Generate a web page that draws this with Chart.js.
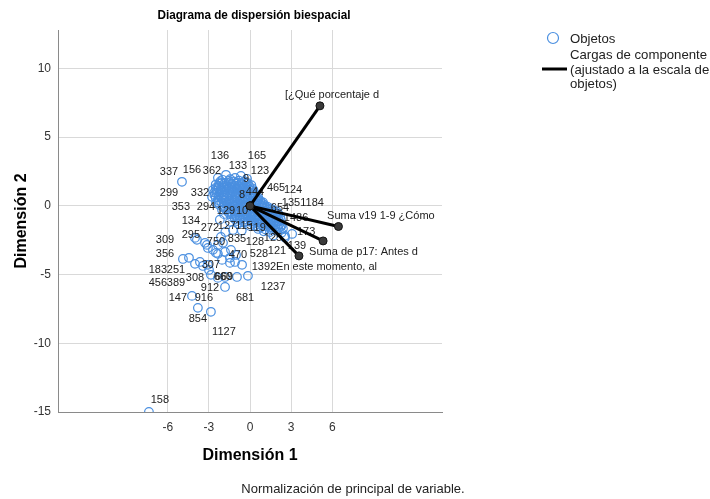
<!DOCTYPE html>
<html>
<head>
<meta charset="utf-8">
<script src="https://cdn.jsdelivr.net/npm/chart.js@4.4.1/dist/chart.umd.min.js"></script>
<style>
  html, body { margin: 0; padding: 0; background: #fff; }
  canvas { display: block; }
</style>
</head>
<body>
<canvas id="biplot" width="710" height="499"></canvas>
<script>
// Puntos de objetos (Dimensión 1, Dimensión 2)
const objetos = [
  // nube central
  [-2.34, 2.04], [-1.75, 2.26], [-1.09, 2.04], [-0.66, 2.18], [-0.22, 1.97], [-1.45, 1.95], [-2.0, 1.9],
  [-2.04, 1.67], [-2.5, 1.55], [-1.7, 1.7], [-1.35, 1.62], [-0.95, 1.7], [-0.55, 1.6], [-0.15, 1.65], [0.1, 1.5],
  [-2.7, 1.16], [-2.3, 1.3], [-1.9, 1.35], [-1.55, 1.25], [-1.15, 1.35], [-0.8, 1.28], [-0.4, 1.32], [-0.05, 1.2], [0.25, 1.15],
  [-2.77, 0.66], [-2.45, 0.95], [-2.05, 1.0], [-1.65, 0.92], [-1.25, 1.0], [-0.9, 0.95], [-0.55, 0.98], [-0.2, 0.9], [0.15, 0.85], [0.4, 0.7],
  [-2.3, 0.6], [-1.9, 0.62], [-1.5, 0.55], [-1.1, 0.65], [-0.75, 0.58], [-0.35, 0.62], [0.05, 0.55], [0.45, 0.45], [0.75, 0.35],
  [-2.48, 0.22], [-2.1, 0.28], [-1.7, 0.25], [-1.3, 0.3], [-0.9, 0.22], [-0.5, 0.28], [-0.1, 0.2], [0.3, 0.18], [0.7, 0.1], [1.05, 0.05],
  [-2.04, -0.29], [-1.85, -0.05], [-1.45, -0.1], [-1.05, -0.05], [-0.65, -0.12], [-0.25, -0.08], [0.15, -0.15], [0.55, -0.2], [0.95, -0.15], [1.35, -0.25], [1.7, -0.3],
  [-1.9, -0.6], [-1.6, -0.45], [-1.2, -0.4], [-0.8, -0.5], [-0.4, -0.42], [0.0, -0.5], [0.4, -0.45], [0.85, -0.55], [1.25, -0.5], [1.65, -0.6], [2.05, -0.55],
  [-1.35, -0.8], [-0.95, -0.85], [-0.55, -0.78], [-0.15, -0.85], [0.3, -0.8], [0.7, -0.9], [1.1, -0.85], [1.5, -0.95], [1.9, -0.9], [2.25, -1.0],
  [-0.95, -1.1], [-0.45, -1.2], [0.05, -1.12], [0.5, -1.2], [0.9, -1.15], [1.3, -1.25], [1.75, -1.2], [2.15, -1.3],
  [0.35, -1.45], [0.8, -1.55], [1.25, -1.5], [1.65, -1.6], [2.04, -1.46], [2.4, -1.65],
  [1.0, -1.85], [1.45, -1.9], [1.9, -1.8], [2.3, -1.95],
  [1.7, -2.15], [2.55, -2.18], [3.07, -2.04], [2.55, -2.3],
  // segunda capa de la nube (zona densa)
  [-2.15, 1.8], [-1.55, 1.82], [-1.2, 1.78], [-0.8, 1.83], [-0.4, 1.78],
  [-2.3, 1.45], [-1.9, 1.48], [-1.5, 1.42], [-1.1, 1.47], [-0.75, 1.44], [-0.35, 1.46], [-0.05, 1.42],
  [-2.45, 1.15], [-2.1, 1.12], [-1.7, 1.17], [-1.35, 1.13], [-1.0, 1.16], [-0.6, 1.12], [-0.25, 1.15], [0.1, 1.1],
  [-2.6, 0.8], [-2.25, 0.78], [-1.85, 0.82], [-1.45, 0.79], [-1.05, 0.81], [-0.7, 0.78], [-0.35, 0.8], [0.0, 0.77], [0.3, 0.82], [0.6, 0.62],
  [-2.35, 0.42], [-1.95, 0.44], [-1.55, 0.4], [-1.15, 0.43], [-0.75, 0.41], [-0.3, 0.44], [0.15, 0.4], [0.6, 0.38], [0.95, 0.25],
  [-2.25, 0.08], [-1.65, 0.1], [-1.25, 0.06], [-0.85, 0.09], [-0.45, 0.05], [-0.05, 0.08], [0.4, 0.03], [0.85, 0.0], [1.25, -0.05],
  [-1.75, -0.28], [-1.3, -0.25], [-0.9, -0.3], [-0.5, -0.27], [-0.1, -0.3], [0.35, -0.32], [0.75, -0.35], [1.15, -0.38], [1.55, -0.42], [1.95, -0.4],
  [-1.45, -0.62], [-1.05, -0.65], [-0.65, -0.6], [-0.25, -0.66], [0.2, -0.63], [0.6, -0.7], [1.05, -0.7], [1.45, -0.75], [1.85, -0.72], [2.2, -0.8],
  [-1.1, -0.98], [-0.7, -1.0], [-0.3, -0.97], [0.15, -1.0], [0.55, -1.02], [0.95, -1.0], [1.35, -1.08], [1.75, -1.05], [2.1, -1.12],
  [0.25, -1.3], [0.65, -1.35], [1.05, -1.32], [1.5, -1.38], [1.9, -1.35], [2.3, -1.45],
  [0.6, -1.68], [1.1, -1.7], [1.55, -1.72], [2.05, -1.65],
  // tercera capa (núcleo)
  [-2.25, 1.65], [-1.85, 1.63], [-1.45, 1.66], [-1.05, 1.62], [-0.65, 1.67], [-0.25, 1.63],
  [-2.5, 1.3], [-2.1, 1.28], [-1.7, 1.32], [-1.3, 1.29], [-0.95, 1.31], [-0.55, 1.27], [-0.15, 1.3], [0.15, 1.28],
  [-2.6, 0.98], [-2.2, 0.96], [-1.8, 0.99], [-1.4, 0.97], [-1.05, 0.98], [-0.7, 0.95], [-0.35, 0.99], [0.05, 0.96], [0.3, 0.97],
  [-2.5, 0.6], [-2.1, 0.58], [-1.7, 0.62], [-1.3, 0.59], [-0.9, 0.61], [-0.55, 0.57], [-0.15, 0.6], [0.25, 0.58], [0.6, 0.5],
  [-2.3, 0.25], [-1.9, 0.23], [-1.5, 0.27], [-1.1, 0.24], [-0.7, 0.26], [-0.3, 0.22], [0.1, 0.26], [0.5, 0.22], [0.9, 0.15],
  [-1.95, -0.1], [-1.6, -0.12], [-1.2, -0.08], [-0.8, -0.11], [-0.4, -0.09], [0.0, -0.12], [0.4, -0.08], [0.8, -0.1], [1.15, -0.15], [1.5, -0.18],
  [-1.4, -0.45], [-1.0, -0.47], [-0.6, -0.44], [-0.2, -0.46], [0.2, -0.43], [0.6, -0.48], [1.05, -0.45], [1.45, -0.52], [1.85, -0.55],
  [-1.15, -0.8], [-0.75, -0.82], [-0.35, -0.79], [0.1, -0.81], [0.5, -0.83], [0.9, -0.8], [1.3, -0.87], [1.7, -0.85], [2.05, -0.9],
  [-0.2, -1.15], [0.25, -1.13], [0.7, -1.17], [1.1, -1.14], [1.55, -1.18], [1.95, -1.15],
  [0.55, -1.5], [1.0, -1.48], [1.45, -1.53], [1.85, -1.5], [2.2, -1.55],
  // entre la nube y el grupo inferior
  [-1.46, -1.16], [-0.88, -1.31], [-0.36, -1.16], [0.0, -1.46], [-1.24, -1.75], [-2.2, -1.0], [-1.8, -1.9], [-0.6, -1.8],
  // grupo inferior
  [-3.87, -2.47], [-3.28, -2.69], [-3.07, -3.06], [-2.7, -3.2], [-2.34, -2.84], [-1.97, -2.69], [-1.82, -3.35], [-2.34, -3.49],
  [-2.04, -3.93], [-1.46, -3.78], [-1.09, -4.08], [-0.58, -4.29], [-4.89, -3.86], [-4.45, -3.78], [-4.01, -4.22], [-3.65, -4.08],
  [-3.43, -4.37], [-3.07, -4.29], [-2.99, -4.66], [-2.85, -5.02], [-2.34, -5.24], [-1.82, -5.17], [-0.95, -5.17], [-0.15, -5.09],
  [-1.82, -5.9], [-4.23, -6.55], [-3.8, -7.42], [-2.85, -7.71], [-1.46, -4.15], [-2.48, -3.42], [-1.39, -3.2], [-1.02, -3.57],
  [-3.14, -2.84], [-2.12, -2.26], [-4.01, -2.33],
  // aislados
  [-4.96, 1.75], [-7.37, -15.0]
];

// Etiquetas de objetos y su posición (unidades de los ejes)
const etiquetasObj = ['136', '165', '337', '156', '362', '133', '123', '9', '299', '332', '353', '294', '129', '10', '8', '444',
  '465', '124', '135', '1184', '654', '1486', '173', '134', '272', '127', '115', '119', '295', '309', '750', '835', '128', '125',
  '139', '121', '528', '470', '356', '183', '251', '307', '1392', '456', '389', '308', '660', '669', '912', '1237', '147', '916',
  '681', '854', '1127', '158'];
const etiquetaX = [-2.19, 0.51, -5.91, -4.23, -2.77, -0.88, 0.73, -0.29, -5.91, -3.65, -5.04, -3.21, -1.75, -0.58, -0.58, 0.36,
  1.90, 3.14, 2.99, 4.53, 2.19, 3.36, 4.09, -4.31, -2.92, -1.68, -0.44, 0.51, -4.31, -6.20, -2.48, -0.95, 0.36, 1.68,
  3.43, 1.97, 0.66, -0.88, -6.20, -6.72, -5.40, -2.85, 1.02, -6.72, -5.40, -4.01, -1.97, -1.90, -2.92, 1.68, -5.26, -3.36,
  -0.36, -3.80, -1.90, -6.57];
const etiquetaY = [3.64, 3.64, 2.47, 2.62, 2.55, 2.91, 2.55, 1.97, 0.95, 0.95, -0.07, -0.07, -0.36, -0.36, 0.80, 1.02,
  1.31, 1.16, 0.22, 0.22, -0.15, -0.87, -1.89, -1.09, -1.60, -1.46, -1.46, -1.60, -2.11, -2.47, -2.62, -2.40, -2.62, -2.33,
  -2.91, -3.28, -3.49, -3.57, -3.49, -4.66, -4.66, -4.29, -4.44, -5.60, -5.60, -5.24, -5.17, -5.17, -5.97, -5.90, -6.70, -6.70,
  -6.70, -8.22, -9.17, -14.12];

// Cargas de componente
const variables = ['[¿Qué porcentaje d', 'Suma v19 1-9 ¿Cómo', 'Suma de p17: Antes d', 'En este momento, al'];
const cargaX = [5.1, 6.45, 5.33, 3.57];
const cargaY = [7.28, -1.5, -2.55, -3.64];
const textoCargaX = [2.55, 5.62, 4.31, 1.9];
const textoCargaY = [8.08, -0.73, -3.35, -4.44];

const ticksX = [-6, -3, 0, 3, 6];
const ticksY = [-15, -10, -5, 0, 5, 10];

const FONT = '"Liberation Sans", Arial, sans-serif';
const AZUL = '#4a8fe0';

const vectorDatasets = variables.map((name, i) => ({
  label: name,
  data: [{ x: 0, y: 0 }, { x: cargaX[i], y: cargaY[i] }],
  showLine: true,
  borderColor: '#000',
  borderWidth: 3,
  pointRadius: 4,
  pointBackgroundColor: '#3a3a3a',
  pointBorderColor: '#111',
  pointBorderWidth: 1,
  order: 0
}));

// textos: etiquetas, títulos, leyenda y nota
const textPlugin = {
  id: 'biplotText',
  afterDatasetDraw(chart, args) {
    if (args.index !== 0) return;
    const { ctx, scales: { x, y } } = chart;
    ctx.save();
    ctx.fillStyle = '#222';
    ctx.font = '11px ' + FONT;
    ctx.textAlign = 'center';
    ctx.textBaseline = 'middle';
    etiquetasObj.forEach((t, i) => {
      ctx.fillText(t, x.getPixelForValue(etiquetaX[i]), y.getPixelForValue(etiquetaY[i]));
    });
    ctx.restore();
  },
  afterDraw(chart) {
    const { ctx, chartArea, scales: { x, y } } = chart;
    ctx.save();
    ctx.fillStyle = '#222';
    ctx.font = '11px ' + FONT;
    ctx.textAlign = 'left';
    ctx.textBaseline = 'middle';
    variables.forEach((t, i) => {
      ctx.fillText(t, x.getPixelForValue(textoCargaX[i]), y.getPixelForValue(textoCargaY[i]));
    });

    const midX = (chartArea.left + chartArea.right) / 2;
    ctx.fillStyle = '#000';
    ctx.textAlign = 'center';
    // título algo condensado, como en el original
    ctx.save();
    ctx.translate(midX + 4, 15);
    ctx.scale(0.87, 1);
    ctx.font = 'bold 13.5px ' + FONT;
    ctx.fillText('Diagrama de dispersión biespacial', 0, 0);
    ctx.restore();
    ctx.font = 'bold 16px ' + FONT;
    ctx.fillText('Dimensión 1', midX, 456);
    ctx.save();
    ctx.translate(22, (chartArea.top + chartArea.bottom) / 2);
    ctx.rotate(-Math.PI / 2);
    ctx.fillText('Dimensión 2', 0, 0);
    ctx.restore();

    ctx.font = '13px ' + FONT;
    ctx.fillStyle = '#222';
    ctx.fillText('Normalización de principal de variable.', 353, 489);

    // leyenda
    ctx.strokeStyle = AZUL;
    ctx.lineWidth = 1.2;
    ctx.beginPath();
    ctx.arc(553, 38, 5.5, 0, Math.PI * 2);
    ctx.stroke();
    ctx.strokeStyle = '#000';
    ctx.lineWidth = 3;
    ctx.beginPath();
    ctx.moveTo(542, 69);
    ctx.lineTo(567, 69);
    ctx.stroke();
    ctx.textAlign = 'left';
    ctx.font = '13.2px ' + FONT;
    ctx.fillText('Objetos', 570, 39);
    ctx.fillText('Cargas de componente', 570, 55);
    ctx.fillText('(ajustado a la escala de', 570, 70);
    ctx.fillText('objetos)', 570, 84);
    ctx.restore();
  }
};

new Chart(document.getElementById('biplot'), {
  type: 'scatter',
  data: {
    datasets: [
      {
        label: 'Objetos',
        data: objetos.map(p => ({ x: p[0], y: p[1] })),
        pointRadius: 4.3,
        pointBorderWidth: 1.2,
        pointBorderColor: AZUL,
        pointBackgroundColor: 'rgba(0,0,0,0)',
        order: 1
      },
      ...vectorDatasets
    ]
  },
  options: {
    responsive: false,
    animation: false,
    events: [],
    layout: { padding: { left: 0, top: 30, right: 268, bottom: 67 } },
    plugins: {
      legend: { display: false },
      tooltip: { enabled: false },
      title: { display: false }
    },
    scales: {
      x: {
        type: 'linear',
        min: -14,
        max: 14,
        afterBuildTicks: s => { s.ticks = ticksX.map(v => ({ value: v })); },
        afterFit: s => { s.height = 20; },
        grid: { color: '#d9d9d9', drawTicks: false },
        border: { color: '#8a8a8a' },
        ticks: { padding: 8, color: '#333', font: { size: 12, family: FONT } }
      },
      y: {
        type: 'linear',
        min: -15,
        max: 12.8,
        afterBuildTicks: s => { s.ticks = ticksY.map(v => ({ value: v })); },
        afterFit: s => { s.width = 58; },
        grid: { color: '#d9d9d9', drawTicks: false },
        border: { color: '#8a8a8a' },
        ticks: { padding: 7, color: '#333', font: { size: 12, family: FONT } }
      }
    }
  },
  plugins: [textPlugin]
});
</script>
</body>
</html>
